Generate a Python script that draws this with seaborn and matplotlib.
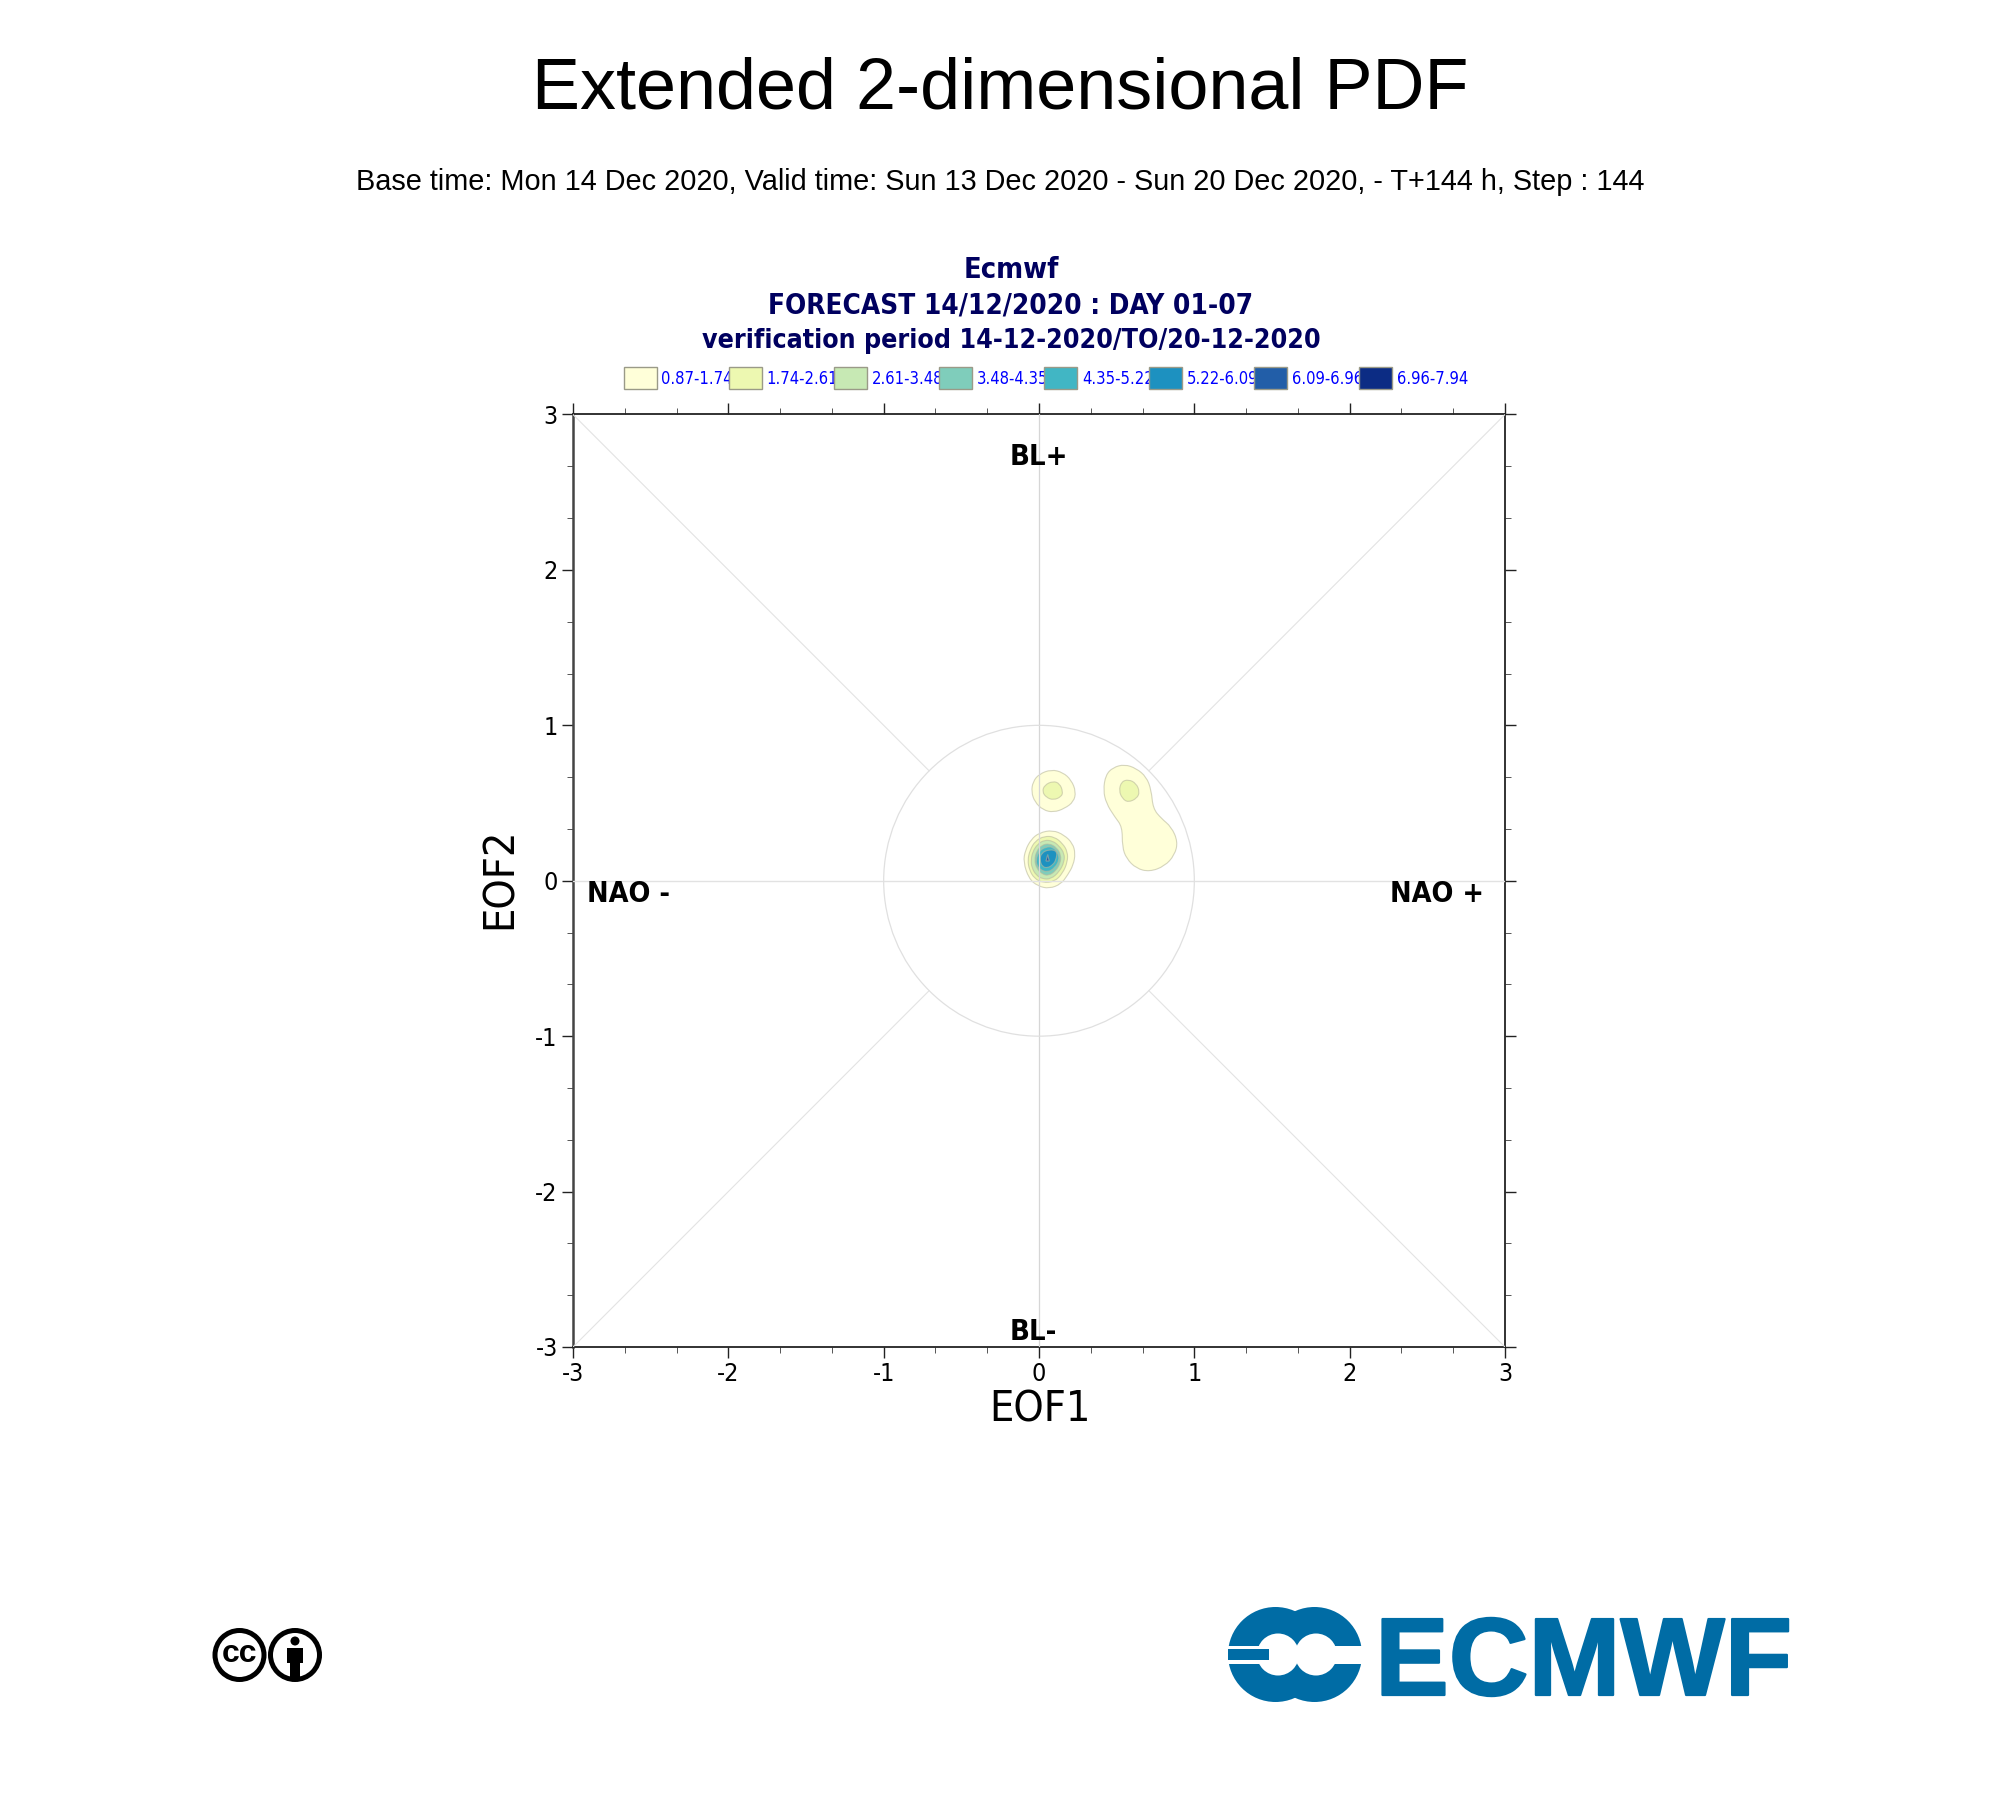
import numpy as np
import pandas as pd
import matplotlib
matplotlib.use("Agg")
import matplotlib.pyplot as plt
import matplotlib.patheffects as pe
from matplotlib.font_manager import FontProperties
from matplotlib.patches import Circle, Rectangle, PathPatch
from matplotlib.path import Path
from matplotlib.ticker import FixedLocator, FixedFormatter, NullFormatter
import seaborn as sns

sns.set_theme(style="white")
plt.rcParams["axes.unicode_minus"] = False

TITLE = "Extended 2-dimensional PDF"
SUBTITLE = "Base time: Mon 14 Dec 2020, Valid time: Sun 13 Dec 2020 - Sun 20 Dec 2020, - T+144 h, Step : 144"
HEADER = ["Ecmwf", "FORECAST 14/12/2020 : DAY 01-07", "verification period 14-12-2020/TO/20-12-2020"]
LEVEL_LABELS = ["0.87-1.74", "1.74-2.61", "2.61-3.48", "3.48-4.35", "4.35-5.22", "5.22-6.09", "6.09-6.96", "6.96-7.94"]
LEVEL_COLORS = ["#ffffd9", "#edf8b1", "#c7e9b4", "#7fcdbb", "#41b6c4", "#1d91c0", "#225ea8", "#0c2c84"]
TICKS = [-3, -2, -1, 0, 1, 2, 3]
TICK_LABELS = ["-3", "-2", "-1", "0", "1", "2", "3"]

# Contours: (colour level index, EOF1, EOF2)
right_lobe_1 = [(.414,.583),(.429,.680),(.476,.729),(.551,.749),(.626,.723),(.691,.669),(.723,.583),(.734,.465),
                (.787,.401),(.852,.347),(.894,.251),(.873,.165),(.809,.094),(.712,.058),(.626,.079),(.562,.144),
                (.536,.219),(.536,.347),(.487,.412),(.433,.498)]
right_lobe_2 = [(.515,.579),(.530,.637),(.577,.652),(.626,.626),(.648,.573),(.631,.530),(.573,.504),(.536,.530)]
top_lobe_1 = [(-.049,.573),(-.039,.637),(0,.686),(.079,.716),(.154,.697),(.208,.648),(.238,.573),(.223,.508),
              (.165,.465),(.094,.440),(.026,.455),(-.028,.508)]
top_lobe_2 = [(.021,.573),(.036,.616),(.090,.641),(.133,.626),(.154,.573),(.144,.541),(.094,.519),(.047,.536)]
core_1 = [(-.101,.122),(-.088,.197),(-.051,.266),(.002,.309),(.088,.326),(.163,.294),(.217,.240),(.234,.176),
          (.221,.101),(.184,.036),(.142,-.021),(.066,-.051),(-.009,-.034),(-.066,.015)]
core_2 = [(-.073,.133),(-.058,.197),(-.024,.257),(.034,.287),(.099,.283),(.152,.240),(.184,.187),(.184,.122),
          (.152,.047),(.099,-.006),(.024,-.013),(-.030,.015),(-.062,.069)]
core_3 = [(-.051,.133),(-.041,.187),(-.009,.236),(.034,.262),(.088,.257),(.131,.223),(.163,.176),(.163,.122),
          (.131,.058),(.077,.011),(.024,.011),(-.019,.036),(-.047,.086)]
core_4 = [(-.030,.133),(-.015,.193),(.019,.230),(.066,.240),(.114,.214),(.142,.165),(.137,.112),(.109,.064),
          (.062,.032),(.019,.043),(-.015,.079)]
core_5 = [(-.019,.133),(-.001,.190),(.044,.218),(.090,.218),(.123,.178),(.131,.133),(.102,.083),(.055,.054),
          (.011,.070),(-.013,.098)]
core_6 = [(.005,.133),(.015,.179),(.066,.202),(.118,.191),(.109,.133),(.090,.104),(.056,.082),(.021,.090)]
core_7 = [(.045,.127),(.056,.169),(.066,.127)]
CONTOURS = [(0, right_lobe_1), (1, right_lobe_2), (0, top_lobe_1), (1, top_lobe_2), (0, core_1), (1, core_2),
            (2, core_3), (3, core_4), (4, core_5), (5, core_6), (6, core_7)]

W, H = 2000, 1800
fig = plt.figure(figsize=(W / 100, H / 100), dpi=100, facecolor="white")
L, R, T, B = 573, 1505, 414.5, 1347
ax = fig.add_axes([L / W, 1 - B / H, (R - L) / W, (B - T) / H], facecolor="white")

COND = dict(family="DejaVu Sans", stretch="condensed")


def closed_curve(pts):
    """Rounded closed outline whose control points are the read contour vertices."""
    p = np.array(pts, dtype=float)
    if len(p) < 4:
        return Path(np.vstack([p, p[:1]]), closed=True)
    mids = (p + np.roll(p, -1, axis=0)) / 2
    verts = [mids[-1]]
    codes = [Path.MOVETO]
    for c, m in zip(p, mids):
        verts += [c, m]
        codes += [Path.CURVE3, Path.CURVE3]
    return Path(np.array(verts), codes)


# Filled PDF contours with their outlines
for lev, pts in CONTOURS:
    path = closed_curve(pts)
    ax.add_patch(PathPatch(path, fc=LEVEL_COLORS[lev], ec="none", zorder=2))
    ax.add_patch(PathPatch(path, fc="none", ec="#b9b99c", lw=.8, alpha=.6, zorder=3))

# Guide lines
sect = 1 / np.sqrt(2)
for sx, sy in [(-1, -1), (-1, 1), (1, -1), (1, 1)]:
    d = pd.DataFrame({"x": [sx * sect, sx * 3], "y": [sy * sect, sy * 3]})
    sns.lineplot(data=d, x="x", y="y", sort=False, estimator=None, ax=ax, color="#e3e3e3", lw=.8, zorder=4)
ax.axvline(0, color="#d6d6d6", lw=.9, zorder=4)
ax.axhline(0, color="#e2e2e2", lw=1.0, zorder=4)
ax.add_patch(Circle((0, 0), 1, fill=False, ec="#e0e0e0", lw=.9, zorder=4))

ax.set_xlim(-3, 3)
ax.set_ylim(-3, 3)
ax.set_xlabel("")
ax.set_ylabel("")
minor = [v / 3 for v in range(-9, 10) if v % 3]
for axis in (ax.xaxis, ax.yaxis):
    axis.set_major_locator(FixedLocator(TICKS))
    axis.set_major_formatter(FixedFormatter(TICK_LABELS))
    axis.set_minor_locator(FixedLocator(minor))
    axis.set_minor_formatter(NullFormatter())
ax.tick_params(which="major", length=8, width=1.0, color="#222222", top=True, right=True, bottom=True, left=True,
               labelsize=18, labelcolor="black", pad=3, direction="out")
ax.tick_params(which="minor", length=4, width=.7, color="#555555", top=True, right=True, bottom=True, left=True,
               direction="out")
for lab in ax.get_xticklabels() + ax.get_yticklabels():
    lab.set_fontproperties(FontProperties(size=18, **COND))
for side in ax.spines:
    ax.spines[side].set_visible(True)
    ax.spines[side].set_linewidth(1.3)
    ax.spines[side].set_color("#222222")
ax.spines["left"].set_color("#444444")
ax.spines["left"].set_linewidth(1.8)
ax.set_zorder(2)

# Overlay in pixel coordinates for page furniture
ov = fig.add_axes([0, 0, 1, 1], facecolor="none")
ov.set_xlim(0, W)
ov.set_ylim(H, 0)
ov.axis("off")
ov.set_zorder(3)

ov.text(1000, 90, TITLE, ha="center", va="center", family="Liberation Sans", fontsize=51.8, color="black")
ov.text(1000, 182.5, SUBTITLE, ha="center", va="center", family="Liberation Sans", fontsize=20.76, color="black")

navy = "#00005f"
for txt, y, fs in zip(HEADER, [270.5, 305.5, 341], [20.8, 20, 19.15]):
    ov.text(1011, y, txt, ha="center", va="center", color=navy, fontsize=fs, fontweight="bold", **COND)

# Legend
for i, (lab, col) in enumerate(zip(LEVEL_LABELS, LEVEL_COLORS)):
    x0 = 623.5 + i * 105.07
    ov.text(x0 + 38, 379, lab, ha="left", va="center", color="#0000ff", fontsize=11.9, zorder=2, **COND)
    ov.add_patch(Rectangle((x0, 367), 33.5, 22, fc=col, ec="#9a9a88", lw=1.0, zorder=3 + i))

# Sector labels
lab_kw = dict(color="black", fontweight="bold", va="center", **COND)
ov.text(1038.5, 457, "BL+", ha="center", fontsize=21, **lab_kw)
ov.text(1033, 1331.5, "BL-", ha="center", fontsize=21, **lab_kw)
ov.text(587, 893.5, "NAO -", ha="left", fontsize=20.6, **lab_kw)
ov.text(1483.5, 893.5, "NAO +", ha="right", fontsize=20.6, **lab_kw)

# Axis titles
ov.text(1040, 1410, "EOF1", ha="center", va="center", color="black", fontsize=31, **COND)
ov.text(500, 878, "EOF2", ha="center", va="center", rotation=90, color="black", fontsize=31, **COND)

# Creative Commons badge
for cx in (239.5, 295):
    ov.add_patch(Circle((cx, 1655), 24.5, fc="white", ec="black", lw=3.6))
ov.text(239.5, 1654, "cc", ha="center", va="center", family="Liberation Sans", fontweight="bold", fontsize=23, color="black")
ov.add_patch(Circle((295, 1641), 4.5, fc="black", ec="none"))
ov.add_patch(Rectangle((287, 1648), 16, 15, fc="black", ec="none"))
ov.add_patch(Rectangle((290, 1660), 10, 17, fc="black", ec="none"))

# ECMWF logo
blue = "#006ca5"
cy = 1654.5
for cx in (1275.5, 1314.5):
    ov.add_patch(Circle((cx, cy), 47.5, fc=blue, ec="none"))
for cx in (1278, 1316):
    ov.add_patch(Circle((cx, cy), 21, fc="white", ec="none"))
ov.add_patch(Rectangle((1225, 1645.7), 50, 18.3, fc="white", ec="none"))
ov.add_patch(Rectangle((1316, 1645.7), 50, 18.3, fc="white", ec="none"))
ov.add_patch(Rectangle((1228, 1649.3), 41, 10.7, fc=blue, ec="none"))
ov.text(1583.5, 1695, "ECMWF", ha="center", va="baseline", family="Liberation Sans", fontweight="bold", fontsize=79.5,
        color=blue, path_effects=[pe.withStroke(linewidth=1.6, foreground=blue)])

fig.savefig("out.png", dpi=100, facecolor="white")
